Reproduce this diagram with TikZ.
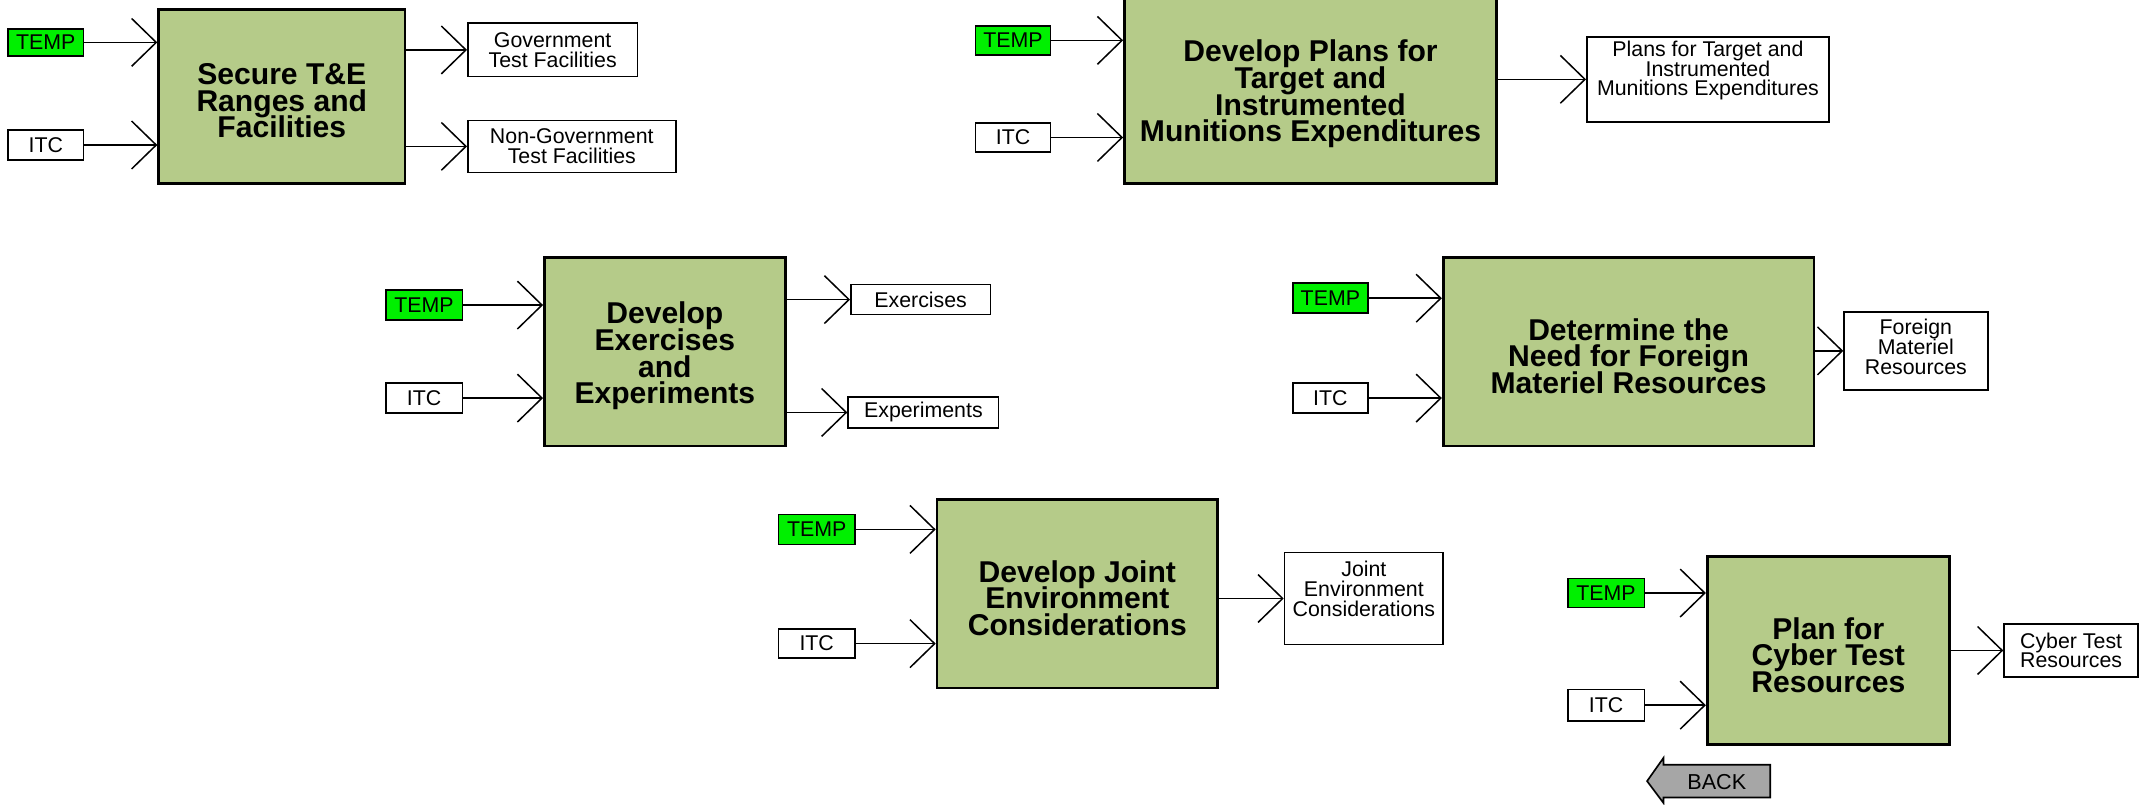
\documentclass[tikz,border=0pt]{standalone}
\usepackage{fontspec}
\setmainfont{Liberation Sans}
\usetikzlibrary{arrows.meta}
\definecolor{procfill}{HTML}{B5CB89}
\definecolor{tempgreen}{HTML}{00F000}
\definecolor{backgray}{HTML}{A6A6A6}
\newcommand\tightlines{\setlength{\lineskiplimit}{-20pt}}
\tikzset{
  proc/.style={draw=black, line width=1pt, fill=procfill, inner sep=0pt},
  proctext/.style={align=center, inner sep=0pt,
    font={\bfseries\fontsize{11}{9.7}\selectfont\tightlines}},
  iobox/.style={draw=black, line width=0.6pt, fill=white, align=center, inner sep=0pt,
    font={\fontsize{7.8}{7.2}\selectfont\tightlines}},
  tempbox/.style={iobox, fill=tempgreen},
  conn/.style={draw=black, line width=0.55pt,
    -{Straight Barb[length=9pt, width=17.5pt, line width=0.55pt]}},
  backbtn/.style={draw=black, line width=0.6pt, fill=backgray},
}
\newcommand\bx[7]{\node[#1, minimum width={(#4-#2)*0.5pt}, minimum height={(#5-#3)*0.5pt}] (#6) at ({(#2+#4)/2},{(#3+#5)/2}) {#7};}
\newcommand\pbx[6]{\node[proc, minimum width={(#3-#1)*0.5pt}, minimum height={(#4-#2)*0.5pt}] (#5) at ({(#1+#3)/2},{(#2+#4)/2}) {};
  \node[proctext] (#5-text) at ([yshift=-1.6pt]#5.center) {#6};}
\begin{document}
\begin{tikzpicture}[x=0.5pt, y=-0.5pt]
\useasboundingbox (0,0) rectangle (1568,588);
% ---- Box 1
\pbx{116}{7}{296}{134}{box1}{Secure T\&E\\Ranges and\\Facilities}
\bx{tempbox}{6}{21}{61}{41}{temp1}{TEMP}
\bx{iobox}{6}{95}{61}{117}{itc1}{ITC}
\bx{iobox}{342}{17}{466}{56}{gov}{Government\\Test Facilities}
\bx{iobox}{342}{88}{494}{126}{ngov}{Non-Government\\Test Facilities}
\draw[conn] (temp1.east) -- (temp1.east -| box1.west);
\draw[conn] (itc1.east) -- (itc1.east -| box1.west);
\draw[conn] (gov.west -| box1.east) -- (gov.west);
\draw[conn] (ngov.west -| box1.east) -- (ngov.west);
% ---- Box 2
\pbx{822}{-3}{1094}{134}{box2}{Develop Plans for\\Target and\\Instrumented\\Munitions Expenditures}
\bx{tempbox}{713}{19}{768}{40}{temp2}{TEMP}
\bx{iobox}{713}{90}{768}{111}{itc2}{ITC}
\bx{iobox, text depth=8pt}{1160}{27}{1337}{89}{out2}{Plans for Target and\\Instrumented\\Munitions Expenditures}
\draw[conn] (temp2.east) -- (temp2.east -| box2.west);
\draw[conn] (itc2.east) -- (itc2.east -| box2.west);
\draw[conn] (out2.west -| box2.east) -- (out2.west);
% ---- Box 3
\pbx{398}{188}{574}{326}{box3}{Develop\\Exercises\\and\\Experiments}
\bx{tempbox}{282}{212}{338}{234}{temp3}{TEMP}
\bx{iobox}{282}{280}{338}{302}{itc3}{ITC}
\bx{iobox}{622}{208}{724}{230}{exer}{Exercises}
\bx{iobox}{620}{290}{730}{313}{expe}{Experiments}
\draw[conn] (temp3.east) -- (temp3.east -| box3.west);
\draw[conn] (itc3.east) -- (itc3.east -| box3.west);
\draw[conn] (exer.west -| box3.east) -- (exer.west);
\draw[conn] (expe.west -| box3.east) -- (expe.west);
% ---- Box 4
\pbx{1055}{188}{1326}{326}{box4}{Determine the\\Need for Foreign\\Materiel Resources}
\bx{tempbox}{945}{207}{1000}{229}{temp4}{TEMP}
\bx{iobox}{945}{280}{1000}{302}{itc4}{ITC}
\bx{iobox, text depth=3pt}{1348}{228}{1453}{285}{out4}{Foreign\\Materiel\\Resources}
\draw[conn] (temp4.east) -- (temp4.east -| box4.west);
\draw[conn] (itc4.east) -- (itc4.east -| box4.west);
\draw[conn] (out4.west -| box4.east) -- (out4.west);
% ---- Box 5
\pbx{685}{365}{890}{503}{box5}{Develop Joint\\Environment\\Considerations}
\bx{tempbox}{569}{376}{625}{398}{temp5}{TEMP}
\bx{iobox}{569}{460}{625}{481}{itc5}{ITC}
\bx{iobox, text depth=7pt}{939}{404}{1055}{471}{out5}{Joint\\Environment\\Considerations}
\draw[conn] (temp5.east) -- (temp5.east -| box5.west);
\draw[conn] (itc5.east) -- (itc5.east -| box5.west);
\draw[conn] (out5.west -| box5.east) -- (out5.west);
% ---- Box 6
\pbx{1248}{407}{1425}{544}{box6}{Plan for\\Cyber Test\\Resources}
\bx{tempbox}{1146}{423}{1202}{444}{temp6}{TEMP}
\bx{iobox}{1146}{504}{1202}{527}{itc6}{ITC}
\bx{iobox}{1465}{456}{1563}{495}{out6}{Cyber Test\\Resources}
\draw[conn] (temp6.east) -- (temp6.east -| box6.west);
\draw[conn] (itc6.east) -- (itc6.east -| box6.west);
\draw[conn] (out6.west -| box6.east) -- (out6.west);
% ---- Back button
\draw[backbtn] (1204,571) -- (1216,554) -- (1216,559) -- (1294,559) -- (1294,583)
  -- (1216,583) -- (1216,587) -- cycle;
\node[font=\fontsize{7.9}{8}\selectfont, inner sep=0pt] (back) at (1255,572) {BACK};
\end{tikzpicture}
\end{document}
